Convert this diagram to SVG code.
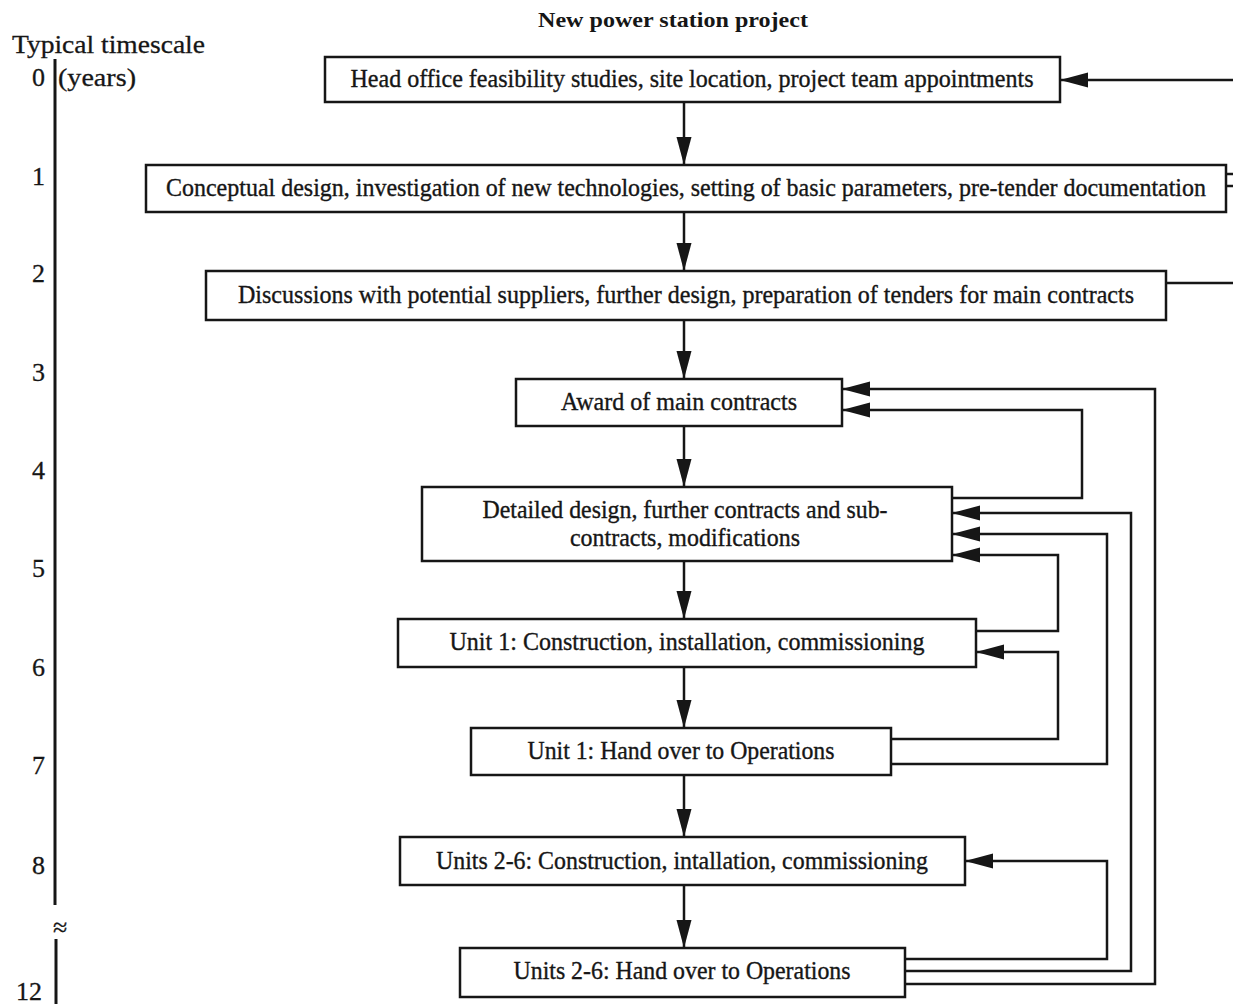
<svg xmlns="http://www.w3.org/2000/svg" width="1233" height="1004" viewBox="0 0 1233 1004">
  <style>
    .box { fill: #ffffff; stroke: #161616; stroke-width: 2.5; }
    .lbl { font-family: "Liberation Serif", "Times New Roman", serif; font-size: 24.5px; fill: #161616; stroke: #161616; stroke-width: 0.35; text-anchor: middle; }
    .title { font-family: "Liberation Serif", "Times New Roman", serif; font-size: 21px; font-weight: bold; fill: #161616; text-anchor: middle; }
    .scale { font-family: "Liberation Serif", "Times New Roman", serif; font-size: 26px; fill: #161616; stroke: #161616; stroke-width: 0.3; }
    .num { font-family: "Liberation Serif", "Times New Roman", serif; font-size: 26px; fill: #161616; stroke: #161616; stroke-width: 0.3; text-anchor: end; }
    .wire { fill: none; stroke: #161616; stroke-width: 2.5; }
    .axis { fill: none; stroke: #161616; stroke-width: 3; }
  </style>
  <defs>
    <marker id="arrow" markerUnits="userSpaceOnUse" markerWidth="28" markerHeight="16" refX="28" refY="8" orient="auto">
      <path d="M0,0.5 L28,8 L0,15.5 z" fill="#161616"/>
    </marker>
  </defs>
  <rect x="0" y="0" width="1233" height="1004" fill="#ffffff"/>

  <!-- title -->
  <text class="title" x="673" y="27" textLength="270" lengthAdjust="spacingAndGlyphs">New power station project</text>

  <!-- timescale axis -->
  <g id="timescale">
    <text class="scale" x="12" y="53" textLength="193" lengthAdjust="spacingAndGlyphs">Typical timescale</text>
    <text class="scale" x="58" y="86" textLength="78" lengthAdjust="spacingAndGlyphs">(years)</text>
    <line class="axis" x1="55" y1="59" x2="55" y2="905"/>
    <text class="scale" x="53" y="936" font-size="18">≈</text>
    <line class="axis" x1="56" y1="939" x2="56" y2="1004"/>
    <text class="num" x="45" y="86">0</text>
    <text class="num" x="45" y="185">1</text>
    <text class="num" x="45" y="282">2</text>
    <text class="num" x="45" y="381">3</text>
    <text class="num" x="45" y="479">4</text>
    <text class="num" x="45" y="577">5</text>
    <text class="num" x="45" y="676">6</text>
    <text class="num" x="45" y="774">7</text>
    <text class="num" x="45" y="874">8</text>
    <text class="num" x="42" y="1000">12</text>
  </g>

  <!-- process steps -->
  <g id="head-office">
    <rect class="box" x="325" y="57" width="735" height="45"/>
    <text class="lbl" x="692" y="87" textLength="683" lengthAdjust="spacingAndGlyphs">Head office feasibility studies, site location, project team appointments</text>
  </g>
  <g id="conceptual-design">
    <rect class="box" x="146" y="165" width="1080" height="47"/>
    <text class="lbl" x="686" y="196" textLength="1040" lengthAdjust="spacingAndGlyphs">Conceptual design, investigation of new technologies, setting of basic parameters, pre-tender documentation</text>
  </g>
  <g id="discussions">
    <rect class="box" x="206" y="271" width="960" height="49"/>
    <text class="lbl" x="686" y="303" textLength="896" lengthAdjust="spacingAndGlyphs">Discussions with potential suppliers, further design, preparation of tenders for main contracts</text>
  </g>
  <g id="award">
    <rect class="box" x="516" y="379" width="326" height="47"/>
    <text class="lbl" x="679" y="410" textLength="236" lengthAdjust="spacingAndGlyphs">Award of main contracts</text>
  </g>
  <g id="detailed-design">
    <rect class="box" x="422" y="487" width="530" height="74"/>
    <text class="lbl" x="685" y="518" textLength="405" lengthAdjust="spacingAndGlyphs">Detailed design, further contracts and sub-</text>
    <text class="lbl" x="685" y="546" textLength="230" lengthAdjust="spacingAndGlyphs">contracts, modifications</text>
  </g>
  <g id="unit1-construction">
    <rect class="box" x="398" y="619" width="578" height="48"/>
    <text class="lbl" x="687" y="650" textLength="475" lengthAdjust="spacingAndGlyphs">Unit 1: Construction, installation, commissioning</text>
  </g>
  <g id="unit1-handover">
    <rect class="box" x="471" y="728" width="420" height="47"/>
    <text class="lbl" x="681" y="759" textLength="307" lengthAdjust="spacingAndGlyphs">Unit 1: Hand over to Operations</text>
  </g>
  <g id="units2-6-construction">
    <rect class="box" x="400" y="837" width="565" height="48"/>
    <text class="lbl" x="682" y="869" textLength="492" lengthAdjust="spacingAndGlyphs">Units 2-6: Construction, intallation, commissioning</text>
  </g>
  <g id="units2-6-handover">
    <rect class="box" x="460" y="948" width="445" height="49"/>
    <text class="lbl" x="682" y="979" textLength="337" lengthAdjust="spacingAndGlyphs">Units 2-6: Hand over to Operations</text>
  </g>

  <!-- connectors -->
  <g id="connectors">
    <!-- main downward sequence -->
    <line class="wire" x1="684" y1="102" x2="684" y2="165" marker-end="url(#arrow)"/>
    <line class="wire" x1="684" y1="212" x2="684" y2="271" marker-end="url(#arrow)"/>
    <line class="wire" x1="684" y1="320" x2="684" y2="379" marker-end="url(#arrow)"/>
    <line class="wire" x1="684" y1="426" x2="684" y2="487" marker-end="url(#arrow)"/>
    <line class="wire" x1="684" y1="561" x2="684" y2="619" marker-end="url(#arrow)"/>
    <line class="wire" x1="684" y1="667" x2="684" y2="728" marker-end="url(#arrow)"/>
    <line class="wire" x1="684" y1="775" x2="684" y2="837" marker-end="url(#arrow)"/>
    <line class="wire" x1="684" y1="885" x2="684" y2="948" marker-end="url(#arrow)"/>

    <!-- upper feedback lines running off the right edge -->
    <line class="wire" x1="1233" y1="80" x2="1060" y2="80" marker-end="url(#arrow)"/>
    <line class="wire" x1="1226" y1="174" x2="1233" y2="174"/>
    <line class="wire" x1="1226" y1="186" x2="1233" y2="186"/>
    <line class="wire" x1="1166" y1="283" x2="1233" y2="283"/>

    <!-- feedback into award of main contracts -->
    <polyline class="wire" points="905,984 1155,984 1155,389 842,389" marker-end="url(#arrow)"/>
    <polyline class="wire" points="952,498 1082,498 1082,410 842,410" marker-end="url(#arrow)"/>

    <!-- feedback into detailed design -->
    <polyline class="wire" points="905,971 1131,971 1131,513 952,513" marker-end="url(#arrow)"/>
    <polyline class="wire" points="891,764 1107,764 1107,534 952,534" marker-end="url(#arrow)"/>
    <polyline class="wire" points="976,631 1058,631 1058,555 952,555" marker-end="url(#arrow)"/>

    <!-- feedback into construction stages -->
    <polyline class="wire" points="891,739 1058,739 1058,652 976,652" marker-end="url(#arrow)"/>
    <polyline class="wire" points="905,959 1107,959 1107,861 965,861" marker-end="url(#arrow)"/>
  </g>
</svg>
